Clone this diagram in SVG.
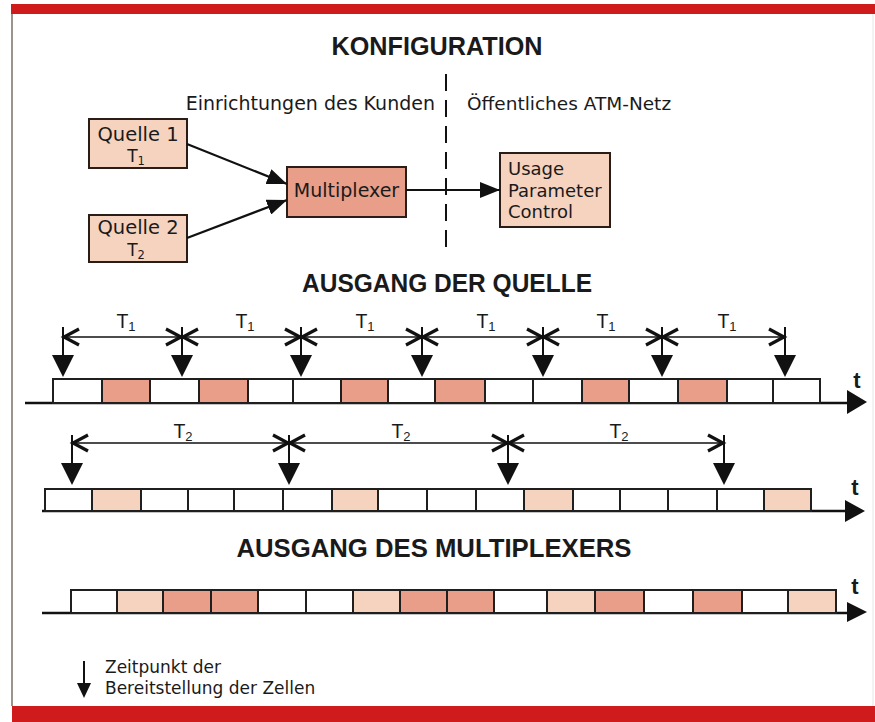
<svg xmlns="http://www.w3.org/2000/svg" width="875" height="722" viewBox="0 0 875 722">
<style>
.bar{fill:#cf1b1b}
.lbl{font-family:"DejaVu Sans","Liberation Sans",sans-serif;fill:#1a1a1a}
.ttl{font-family:"Liberation Sans",Arial,sans-serif;font-weight:bold;fill:#1a1a1a}
.tl{font-family:"Liberation Sans",Arial,sans-serif;fill:#1a1a1a}
.box{stroke:#2a1d18;stroke-width:2}
.light{fill:#f5d3bf}
.dark{fill:#e89e89}
.cell{stroke:#1f1f1f;stroke-width:2}
.w{fill:#ffffff}
.conn{stroke:#111;stroke-width:2.2;fill:none}
.dim{stroke:#111;stroke-width:1.6;fill:none}
.chev{stroke:#111;stroke-width:3.2;fill:none;stroke-linejoin:miter}
.tick{stroke:#111;stroke-width:2}
.head{fill:#111}
.axis{stroke:#111;stroke-width:2.5}
</style>
<defs>
<marker id="arr" viewBox="0 0 20 16" refX="20" refY="8" markerWidth="20" markerHeight="16" markerUnits="userSpaceOnUse" orient="auto">
<path d="M0,0 L20,8 L0,16 Z" fill="#111"/>
</marker>
</defs>
<rect width="875" height="722" fill="#ffffff"/>
<rect class="bar" x="11" y="4" width="864" height="10"/>
<rect class="bar" x="12" y="706" width="863" height="16"/>
<line x1="12" y1="14" x2="12" y2="706" stroke="#5a4a40" stroke-width="1.2"/>
<line x1="873" y1="14" x2="873" y2="706" stroke="#e6e6e6" stroke-width="1"/>

<text class="ttl" x="437" y="55" font-size="26" text-anchor="middle" textLength="211" lengthAdjust="spacingAndGlyphs">KONFIGURATION</text>
<text class="lbl" x="435" y="110" font-size="19" text-anchor="end">Einrichtungen des Kunden</text>
<text class="lbl" x="467" y="110" font-size="18.5">Öffentliches ATM-Netz</text>
<line x1="446" y1="74" x2="446" y2="247" stroke="#111" stroke-width="2" stroke-dasharray="17 9"/>

<g id="quelle1">
<rect class="box light" x="89" y="119" width="98" height="49"/>
<text class="lbl" x="138" y="141" font-size="19.5" text-anchor="middle">Quelle 1</text>
<text class="lbl" x="136" y="162" font-size="17" text-anchor="middle">T<tspan font-size="11.5" dy="3">1</tspan></text>
</g>
<g id="quelle2">
<rect class="box light" x="89" y="215" width="98" height="47"/>
<text class="lbl" x="138" y="234" font-size="19.5" text-anchor="middle">Quelle 2</text>
<text class="lbl" x="136" y="256" font-size="17" text-anchor="middle">T<tspan font-size="11.5" dy="3">2</tspan></text>
</g>
<g id="multiplexer">
<rect class="box dark" x="287" y="167" width="119" height="50"/>
<text class="lbl" x="346.5" y="197" font-size="19" text-anchor="middle">Multiplexer</text>
</g>
<g id="upc">
<rect class="box light" x="500" y="153" width="110" height="74"/>
<text class="lbl" x="508" y="175" font-size="18">Usage</text>
<text class="lbl" x="508" y="197" font-size="18">Parameter</text>
<text class="lbl" x="508" y="218" font-size="18">Control</text>
</g>
<g id="connectors">
<line class="conn" x1="187" y1="144" x2="287" y2="184" marker-end="url(#arr)"/>
<line class="conn" x1="187" y1="238" x2="287" y2="200" marker-end="url(#arr)"/>
<line class="conn" x1="406" y1="190" x2="500" y2="190" marker-end="url(#arr)"/>
</g>

<text class="ttl" x="447" y="292" font-size="25" text-anchor="middle" textLength="290" lengthAdjust="spacingAndGlyphs">AUSGANG DER QUELLE</text>

<g id="row1">
<line class="axis" x1="25" y1="403" x2="850" y2="403"/>
<path class="head" d="M847,390 L867,402 L847,414 Z"/>
<text class="ttl" x="857" y="388" font-size="22" text-anchor="middle">t</text>
<rect class="cell w" x="53" y="379" width="49" height="24"/>
<rect class="cell dark" x="102" y="379" width="48" height="24"/>
<rect class="cell w" x="150" y="379" width="49" height="24"/>
<rect class="cell dark" x="199" y="379" width="49" height="24"/>
<rect class="cell w" x="248" y="379" width="45" height="24"/>
<rect class="cell w" x="293" y="379" width="48" height="24"/>
<rect class="cell dark" x="341" y="379" width="47" height="24"/>
<rect class="cell w" x="388" y="379" width="47" height="24"/>
<rect class="cell dark" x="435" y="379" width="50" height="24"/>
<rect class="cell w" x="485" y="379" width="48" height="24"/>
<rect class="cell w" x="533" y="379" width="49" height="24"/>
<rect class="cell dark" x="582" y="379" width="47" height="24"/>
<rect class="cell w" x="629" y="379" width="49" height="24"/>
<rect class="cell dark" x="678" y="379" width="49" height="24"/>
<rect class="cell w" x="727" y="379" width="46" height="24"/>
<rect class="cell w" x="773" y="379" width="47" height="24"/>
<line class="dim" x1="63" y1="337" x2="785" y2="337"/>
<g class="tick">
<line x1="63" y1="327" x2="63" y2="356"/><line x1="182" y1="327" x2="182" y2="356"/><line x1="301" y1="327" x2="301" y2="356"/><line x1="422" y1="327" x2="422" y2="356"/><line x1="543" y1="327" x2="543" y2="356"/><line x1="662" y1="327" x2="662" y2="356"/><line x1="785" y1="327" x2="785" y2="356"/>
</g>
<g class="head">
<path d="M52,355 L74,355 L63,377 Z"/><path d="M171,355 L193,355 L182,377 Z"/><path d="M290,355 L312,355 L301,377 Z"/><path d="M411,355 L433,355 L422,377 Z"/><path d="M532,355 L554,355 L543,377 Z"/><path d="M651,355 L673,355 L662,377 Z"/><path d="M774,355 L796,355 L785,377 Z"/>
</g>
<g class="chev">
<path d="M79,329 L64,337 L79,345"/>
<path d="M166,329 L181,337 L166,345"/><path d="M198,329 L183,337 L198,345"/>
<path d="M285,329 L300,337 L285,345"/><path d="M317,329 L302,337 L317,345"/>
<path d="M406,329 L421,337 L406,345"/><path d="M438,329 L423,337 L438,345"/>
<path d="M527,329 L542,337 L527,345"/><path d="M559,329 L544,337 L559,345"/>
<path d="M646,329 L661,337 L646,345"/><path d="M678,329 L663,337 L678,345"/>
<path d="M769,329 L784,337 L769,345"/>
</g>
<g class="tl" font-size="19.5" text-anchor="middle">
<text x="126" y="328">T<tspan font-size="13" dy="3">1</tspan></text>
<text x="245" y="328">T<tspan font-size="13" dy="3">1</tspan></text>
<text x="365" y="328">T<tspan font-size="13" dy="3">1</tspan></text>
<text x="486" y="328">T<tspan font-size="13" dy="3">1</tspan></text>
<text x="606" y="328">T<tspan font-size="13" dy="3">1</tspan></text>
<text x="727" y="328">T<tspan font-size="13" dy="3">1</tspan></text>
</g>
</g>

<g id="row2">
<line class="axis" x1="42" y1="511" x2="848" y2="511"/>
<path class="head" d="M845,500 L865,511 L845,522 Z"/>
<text class="ttl" x="855" y="495" font-size="22" text-anchor="middle">t</text>
<rect class="cell w" x="45" y="489" width="47" height="22"/>
<rect class="cell light" x="92" y="489" width="49" height="22"/>
<rect class="cell w" x="141" y="489" width="47" height="22"/>
<rect class="cell w" x="188" y="489" width="46" height="22"/>
<rect class="cell w" x="234" y="489" width="49" height="22"/>
<rect class="cell w" x="283" y="489" width="49" height="22"/>
<rect class="cell light" x="332" y="489" width="46" height="22"/>
<rect class="cell w" x="378" y="489" width="49" height="22"/>
<rect class="cell w" x="427" y="489" width="49" height="22"/>
<rect class="cell w" x="476" y="489" width="48" height="22"/>
<rect class="cell light" x="524" y="489" width="49" height="22"/>
<rect class="cell w" x="573" y="489" width="47" height="22"/>
<rect class="cell w" x="620" y="489" width="48" height="22"/>
<rect class="cell w" x="668" y="489" width="49" height="22"/>
<rect class="cell w" x="717" y="489" width="47" height="22"/>
<rect class="cell light" x="764" y="489" width="47" height="22"/>
<line class="dim" x1="72" y1="443" x2="724" y2="443"/>
<g class="tick">
<line x1="72" y1="435" x2="72" y2="464"/><line x1="289" y1="435" x2="289" y2="464"/><line x1="508" y1="435" x2="508" y2="464"/><line x1="724" y1="435" x2="724" y2="464"/>
</g>
<g class="head">
<path d="M61,463 L83,463 L72,485 Z"/><path d="M278,463 L300,463 L289,485 Z"/><path d="M497,463 L519,463 L508,485 Z"/><path d="M713,463 L735,463 L724,485 Z"/>
</g>
<g class="chev">
<path d="M88,435 L73,443 L88,451"/>
<path d="M273,435 L288,443 L273,451"/><path d="M305,435 L290,443 L305,451"/>
<path d="M492,435 L507,443 L492,451"/><path d="M524,435 L509,443 L524,451"/>
<path d="M708,435 L723,443 L708,451"/>
</g>
<g class="tl" font-size="19.5" text-anchor="middle">
<text x="183" y="438">T<tspan font-size="13" dy="3">2</tspan></text>
<text x="401" y="438">T<tspan font-size="13" dy="3">2</tspan></text>
<text x="619" y="438">T<tspan font-size="13" dy="3">2</tspan></text>
</g>
</g>

<text class="ttl" x="434" y="557" font-size="25" text-anchor="middle" textLength="395" lengthAdjust="spacingAndGlyphs">AUSGANG DES MULTIPLEXERS</text>

<g id="row3">
<line class="axis" x1="42" y1="613" x2="850" y2="613"/>
<path class="head" d="M847,602 L867,612 L847,622 Z"/>
<text class="ttl" x="855" y="594" font-size="22" text-anchor="middle">t</text>
<rect class="cell w" x="71" y="590" width="46" height="23"/>
<rect class="cell light" x="117" y="590" width="46" height="23"/>
<rect class="cell dark" x="163" y="590" width="48" height="23"/>
<rect class="cell dark" x="211" y="590" width="47" height="23"/>
<rect class="cell w" x="258" y="590" width="48" height="23"/>
<rect class="cell w" x="306" y="590" width="47" height="23"/>
<rect class="cell light" x="353" y="590" width="47" height="23"/>
<rect class="cell dark" x="400" y="590" width="47" height="23"/>
<rect class="cell dark" x="447" y="590" width="47" height="23"/>
<rect class="cell w" x="494" y="590" width="53" height="23"/>
<rect class="cell light" x="547" y="590" width="48" height="23"/>
<rect class="cell dark" x="595" y="590" width="49" height="23"/>
<rect class="cell w" x="644" y="590" width="49" height="23"/>
<rect class="cell dark" x="693" y="590" width="49" height="23"/>
<rect class="cell w" x="742" y="590" width="46" height="23"/>
<rect class="cell light" x="788" y="590" width="48" height="23"/>
</g>

<g id="legend">
<line class="tick" x1="84" y1="661" x2="84" y2="684"/>
<path class="head" d="M77,683 L91,683 L84,698 Z"/>
<text class="lbl" x="105" y="673" font-size="17">Zeitpunkt der</text>
<text class="lbl" x="105" y="694" font-size="17">Bereitstellung der Zellen</text>
</g>
</svg>
